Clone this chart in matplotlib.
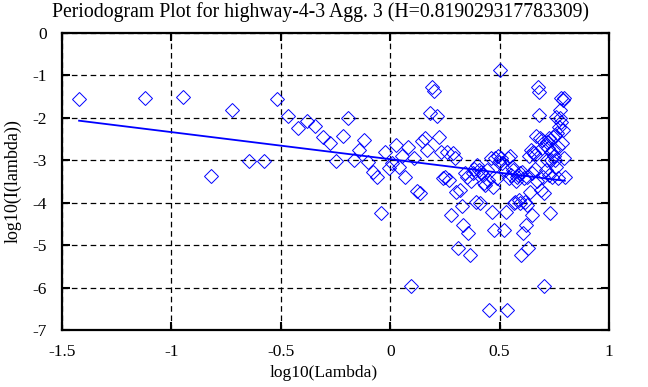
import matplotlib
matplotlib.use("Agg")
import matplotlib.pyplot as plt

# periodogram points: log10(lambda) and log10(I(lambda))
log_lambda = [
    -1.422, -1.121, -0.945, -0.820, -0.723, -0.644, -0.577, -0.519, -0.468, -0.422,
    -0.381, -0.343, -0.308, -0.276, -0.246, -0.218, -0.192, -0.167, -0.143, -0.121,
    -0.100, -0.080, -0.060, -0.042, -0.024, -0.007, 0.009, 0.025, 0.040, 0.055,
    0.069, 0.083, 0.097, 0.110, 0.122, 0.134, 0.146, 0.158, 0.169, 0.180,
    0.191, 0.201, 0.212, 0.222, 0.231, 0.241, 0.250, 0.259, 0.268, 0.277,
    0.286, 0.294, 0.302, 0.310, 0.318, 0.326, 0.334, 0.341, 0.349, 0.356,
    0.363, 0.370, 0.377, 0.384, 0.391, 0.398, 0.404, 0.411, 0.417, 0.423,
    0.429, 0.435, 0.441, 0.447, 0.453, 0.459, 0.465, 0.470, 0.476, 0.481,
    0.487, 0.492, 0.497, 0.502, 0.507, 0.513, 0.518, 0.523, 0.527, 0.532,
    0.537, 0.542, 0.547, 0.551, 0.556, 0.560, 0.565, 0.569, 0.574, 0.578,
    0.582, 0.587, 0.591, 0.595, 0.599, 0.603, 0.607, 0.611, 0.615, 0.619,
    0.623, 0.627, 0.631, 0.635, 0.639, 0.643, 0.646, 0.650, 0.654, 0.657,
    0.661, 0.664, 0.668, 0.671, 0.675, 0.678, 0.682, 0.685, 0.689, 0.692,
    0.695, 0.699, 0.702, 0.705, 0.708, 0.712, 0.715, 0.718, 0.721, 0.724,
    0.727, 0.730, 0.733, 0.736, 0.739, 0.742, 0.745, 0.748, 0.751, 0.754,
    0.757, 0.760, 0.763, 0.765, 0.768, 0.771, 0.774, 0.777, 0.779, 0.782,
    0.785, 0.788, 0.790, 0.793, 0.796, 0.798,
]
log_power = [
    -1.55, -1.54, -1.50, -3.36, -1.81, -3.01, -3.01, -1.56, -1.95, -2.24,
    -2.07, -2.19, -2.44, -2.60, -3.01, -2.43, -2.00, -2.99, -2.75, -2.52,
    -3.03, -3.27, -3.39, -4.25, -2.80, -3.19, -3.07, -2.64, -3.15, -2.90,
    -3.40, -2.69, -5.96, -2.95, -3.72, -3.78, -2.54, -2.48, -2.76, -1.89,
    -1.27, -1.36, -1.95, -2.44, -2.80, -3.42, -3.39, -2.80, -3.46, -4.29,
    -2.84, -2.95, -3.74, -5.07, -3.70, -4.08, -4.52, -3.30, -3.39, -4.72,
    -5.23, -3.50, -3.30, -3.20, -3.98, -3.10, -3.23, -4.01, -3.27, -3.35,
    -3.54, -3.58, -3.23, -3.46, -6.53, -2.95, -4.23, -3.62, -4.64, -2.95,
    -3.42, -2.91, -3.05, -0.88, -2.95, -3.07, -4.64, -3.23, -4.23, -6.53,
    -2.95, -3.42, -2.91, -3.35, -3.15, -3.23, -4.01, -3.98, -3.50, -3.39,
    -3.35, -3.94, -3.30, -4.01, -5.23, -3.27, -4.72, -3.42, -3.98, -4.52,
    -3.39, -4.05, -5.07, -2.91, -3.74, -2.76, -3.31, -4.29, -2.80, -2.84,
    -3.20, -2.88, -2.43, -3.50, -1.27, -1.93, -1.38, -2.48, -3.70, -2.52,
    -2.72, -3.39, -5.96, -3.78, -2.64, -3.23, -2.56, -2.99, -2.72, -3.35,
    -2.48, -4.25, -2.99, -2.80, -3.39, -2.44, -2.76, -2.91, -2.40, -2.99,
    -3.15, -1.97, -2.36, -2.68, -3.42, -2.21, -2.01, -1.81, -2.09, -1.54,
    -2.60, -2.29, -1.58, -1.54, -2.95, -3.39,
]

H = 0.819029317783309
fit_slope = 1 - 2 * H
fit_intercept = -2.974

xticks = [-1.5, -1, -0.5, 0, 0.5, 1]
xtick_labels = ['-1.5', '-1', '-0.5', '0', '0.5', '1']
yticks = [0, -1, -2, -3, -4, -5, -6, -7]

plt.rcParams['font.family'] = ['Liberation Serif', 'DejaVu Serif']

fig = plt.figure(figsize=(6.48, 3.87), dpi=100)
ax = fig.add_axes([62 / 648, 1 - 330 / 387, (609 - 62) / 648, (330 - 33) / 387])

ax.plot(log_lambda, log_power, linestyle='none', marker='D', markersize=7.5,
        markerfacecolor='none', markeredgecolor='#0000ff', markeredgewidth=0.7)

fit_x = [log_lambda[0], log_lambda[-1]]
fit_y = [fit_intercept + fit_slope * v for v in fit_x]
ax.plot(fit_x, fit_y, color='#0000ff', linewidth=1.3)

ax.set_xlim(-1.5, 1)
ax.set_ylim(-7, 0)
ax.set_xticks(xticks)
ax.set_xticklabels(xtick_labels)
ax.set_yticks(yticks)
ax.set_yticklabels([str(v) for v in yticks])

ax.grid(True, color='black', linestyle=(0, (4.5, 3)), linewidth=0.9)
ax.tick_params(axis='x', direction='in', length=6, width=1.5, top=True,
               labelsize=12.5, colors='black', pad=10)
ax.tick_params(axis='y', direction='in', length=6, width=1.5, right=True,
               labelsize=12.5, colors='black', pad=11)
for s in ax.spines.values():
    s.set_linewidth(1.6)

# labels placed relative to the whole canvas, as in the original
fig.text(324 / 648, 1 - 373 / 387, 'log10(Lambda)', ha='center', va='center', fontsize=12.5)
fig.text(13 / 648, 1 - 181 / 387, 'log10(I(lambda))', ha='center', va='center',
         rotation=90, fontsize=13)
fig.text(321 / 648, 1 - 12 / 387, 'Periodogram Plot for highway-4-3 Agg. 3 (H=0.819029317783309)',
         ha='center', va='center', fontsize=14.2)

fig.savefig('out.png', dpi=100)
